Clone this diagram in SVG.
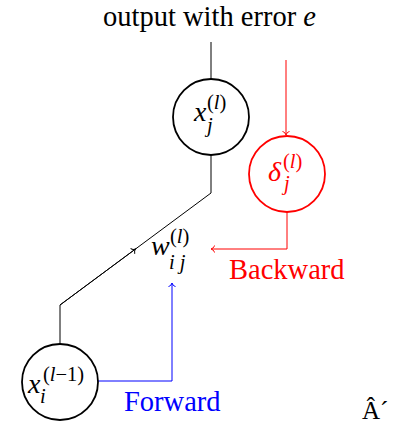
<svg xmlns="http://www.w3.org/2000/svg" width="401" height="425" viewBox="0 0 401 425">
<style>
text{font-family:"Liberation Serif","Times New Roman",serif;}
.t{font-size:28.5px;}
.m{font-size:28px;font-style:italic;}
.s{font-size:20.5px;}
.i{font-style:italic;}
.node{fill:none;stroke-width:1.8;}
.ln{fill:none;stroke-width:1;}
</style>
<defs>
<marker id="ak" markerUnits="userSpaceOnUse" markerWidth="10" markerHeight="10" viewBox="-5 -5 10 10" refX="0" refY="0" orient="auto">
<path d="M-3.5,-3.5 C-3,-1.3 -1,-0.3 0,0 C-1,0.3 -3,1.3 -3.5,3.5" fill="none" stroke="#000" stroke-width="1"/>
</marker>
<marker id="ar" markerUnits="userSpaceOnUse" markerWidth="10" markerHeight="10" viewBox="-5 -5 10 10" refX="0" refY="0" orient="auto">
<path d="M-3.5,-3.5 C-3,-1.3 -1,-0.3 0,0 C-1,0.3 -3,1.3 -3.5,3.5" fill="none" stroke="#f00" stroke-width="1"/>
</marker>
<marker id="ab" markerUnits="userSpaceOnUse" markerWidth="10" markerHeight="10" viewBox="-5 -5 10 10" refX="0" refY="0" orient="auto">
<path d="M-3.5,-3.5 C-3,-1.3 -1,-0.3 0,0 C-1,0.3 -3,1.3 -3.5,3.5" fill="none" stroke="#00f" stroke-width="1"/>
</marker>
</defs>

<g id="connectors">
<path class="ln" stroke="#000" d="M211,42 V79"/>
<path class="ln" stroke="#000" d="M211,155 V193 L60,305 V344"/>
<path class="ln" stroke="#000" d="M60,305 L135.5,249" marker-end="url(#ak)"/>
<path class="ln" stroke="#f00" d="M286,60 V135" marker-end="url(#ar)"/>
<path class="ln" stroke="#f00" d="M287,212 V249 H211" marker-end="url(#ar)"/>
<path class="ln" stroke="#00f" d="M98,381 H172 V283" marker-end="url(#ab)"/>
</g>

<g id="title">
<text class="t" x="103" y="26">output with error <tspan class="i">e</tspan></text>
</g>

<g id="xj">
<circle class="node" stroke="#000" cx="211" cy="117" r="38"/>
<text class="m" x="194" y="121">x</text>
<text class="s" x="207" y="109">(<tspan class="i">l</tspan>)</text>
<text class="s i" x="207" y="132">j</text>
</g>

<g id="delta">
<circle class="node" stroke="#f00" cx="287" cy="174" r="38"/>
<text class="m" x="268" y="181" fill="#f00">δ</text>
<text class="s" x="283" y="168" fill="#f00">(<tspan class="i">l</tspan>)</text>
<text class="s i" x="284" y="190" fill="#f00">j</text>
</g>

<g id="w">
<text class="m" x="151" y="255">w</text>
<text class="s" x="170" y="243">(<tspan class="i">l</tspan>)</text>
<text class="s i" x="169" y="269">i j</text>
</g>

<g id="xi">
<circle class="node" stroke="#000" cx="60" cy="382" r="38"/>
<text class="m" x="28" y="393">x</text>
<text class="s" x="43" y="381">(<tspan class="i">l</tspan>−1)</text>
<text class="s i" x="40" y="403">i</text>
</g>

<g id="labels">
<text class="t" x="229" y="279" fill="#f00">Backward</text>
<text class="t" x="124" y="411" fill="#00f">Forward</text>
<text x="362" y="419" style="font-size:25px">Â´</text>
</g>
</svg>
